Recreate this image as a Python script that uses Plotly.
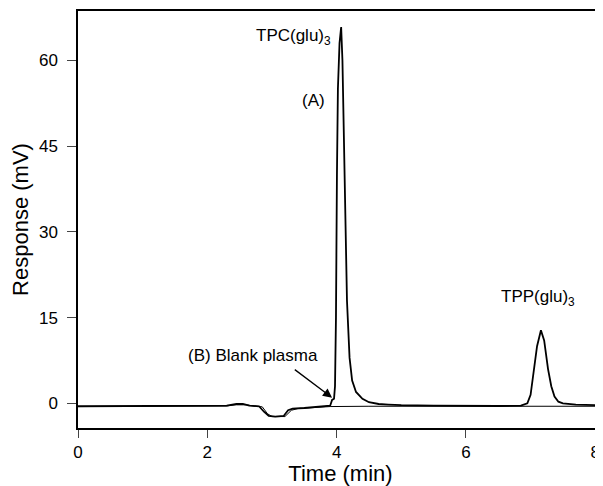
import plotly.graph_objects as go

# trace (A): sample chromatogram, time in min / response in mV
time_a = [0.0, 0.5, 1.0, 1.5, 2.0, 2.3, 2.45, 2.55, 2.65, 2.8, 2.88, 2.95, 3.05, 3.18, 3.25,
          3.32, 3.5, 3.7, 3.9, 3.93, 3.96, 3.975, 3.99, 4.005, 4.02, 4.045, 4.07, 4.09, 4.11,
          4.13, 4.16, 4.2, 4.24, 4.3, 4.4, 4.5, 4.65, 4.8, 5.0, 5.5, 6.0, 6.5, 6.85, 6.95,
          7.0, 7.05, 7.1, 7.16, 7.21, 7.27, 7.32, 7.37, 7.43, 7.5, 7.7, 8.0, 8.12]
resp_a = [-0.5, -0.5, -0.5, -0.45, -0.45, -0.4, -0.1, -0.1, -0.4, -0.5, -1.5, -2.2, -2.3, -2.2, -1.2,
          -0.9, -0.8, -0.6, -0.4, 0.6, 0.8, 3.0, 15.0, 40.0, 55.0, 63.0, 65.8, 60.0, 48.0,
          33.0, 18.0, 8.0, 4.0, 2.0, 0.8, 0.2, -0.1, -0.2, -0.3, -0.4, -0.45, -0.45, -0.4, 0.0,
          1.5, 5.5, 10.0, 12.8, 11.0, 6.0, 3.0, 1.2, 0.3, 0.0, -0.2, -0.3, -0.3]

# trace (B): blank plasma
time_b = [0.0, 0.5, 1.0, 1.5, 2.0, 2.3, 2.45, 2.6, 2.75, 2.85, 2.93, 3.0, 3.2, 3.3, 3.4,
          3.6, 3.9, 4.5, 5.0, 5.5, 6.0, 6.5, 7.0, 7.5, 8.0, 8.12]
resp_b = [-0.55, -0.55, -0.5, -0.5, -0.5, -0.45, -0.25, -0.25, -0.5, -0.6, -1.8, -2.3, -2.3, -1.2, -0.9,
          -0.75, -0.55, -0.5, -0.5, -0.5, -0.5, -0.5, -0.5, -0.5, -0.5, -0.5]

x_ticks = [0, 2, 4, 6, 8]
y_ticks = [0, 15, 30, 45, 60]

font = "Liberation Sans, Arial, sans-serif"

fig = go.Figure()
fig.add_trace(go.Scatter(x=time_b, y=resp_b, mode="lines", line=dict(color="black", width=1)))
fig.add_trace(go.Scatter(x=time_a, y=resp_a, mode="lines", line=dict(color="black", width=1.8)))

# peak labels
fig.add_annotation(x=3.33, y=64.0, text="TPC(glu)<sub>3</sub>", showarrow=False, font=dict(size=17))
fig.add_annotation(x=3.64, y=52.9, text="(A)", showarrow=False, font=dict(size=17))
fig.add_annotation(x=7.11, y=18.5, text="TPP(glu)<sub>3</sub>", showarrow=False, font=dict(size=17))
fig.add_annotation(x=2.7, y=8.4, text="(B) Blank plasma", showarrow=False, font=dict(size=17))
# arrow to the blank trace
fig.add_annotation(x=3.93, y=1.0, ax=3.33, ay=6.1, axref="x", ayref="y", text="",
                   showarrow=True, arrowhead=2, arrowsize=1.4, arrowwidth=1.3, arrowcolor="black")

# body margin of the page is 8px, so the figure is a bit smaller than the window
fig.update_layout(
    width=595, height=478,
    margin=dict(l=70, r=0, t=3, b=58),
    paper_bgcolor="white", plot_bgcolor="white",
    showlegend=False,
    font=dict(family=font, color="black", size=17),
)
fig.update_xaxes(
    range=[0, 8.12], tickvals=x_ticks, ticks="outside", ticklen=8, tickwidth=1.2,
    showline=True, linecolor="black", linewidth=1.5, mirror=True, showgrid=False, zeroline=False,
    title=dict(text="Time (min)", font=dict(size=22), standoff=6),
)
fig.update_yaxes(
    range=[-4.3, 68.6], tickvals=y_ticks, ticks="outside", ticklen=9, tickwidth=1.2,
    ticklabelstandoff=6,
    showline=True, linecolor="black", linewidth=1.5, showgrid=False, zeroline=False,
    title=dict(text="Response (mV)", font=dict(size=22), standoff=4),
)

fig.write_html("out.html")
